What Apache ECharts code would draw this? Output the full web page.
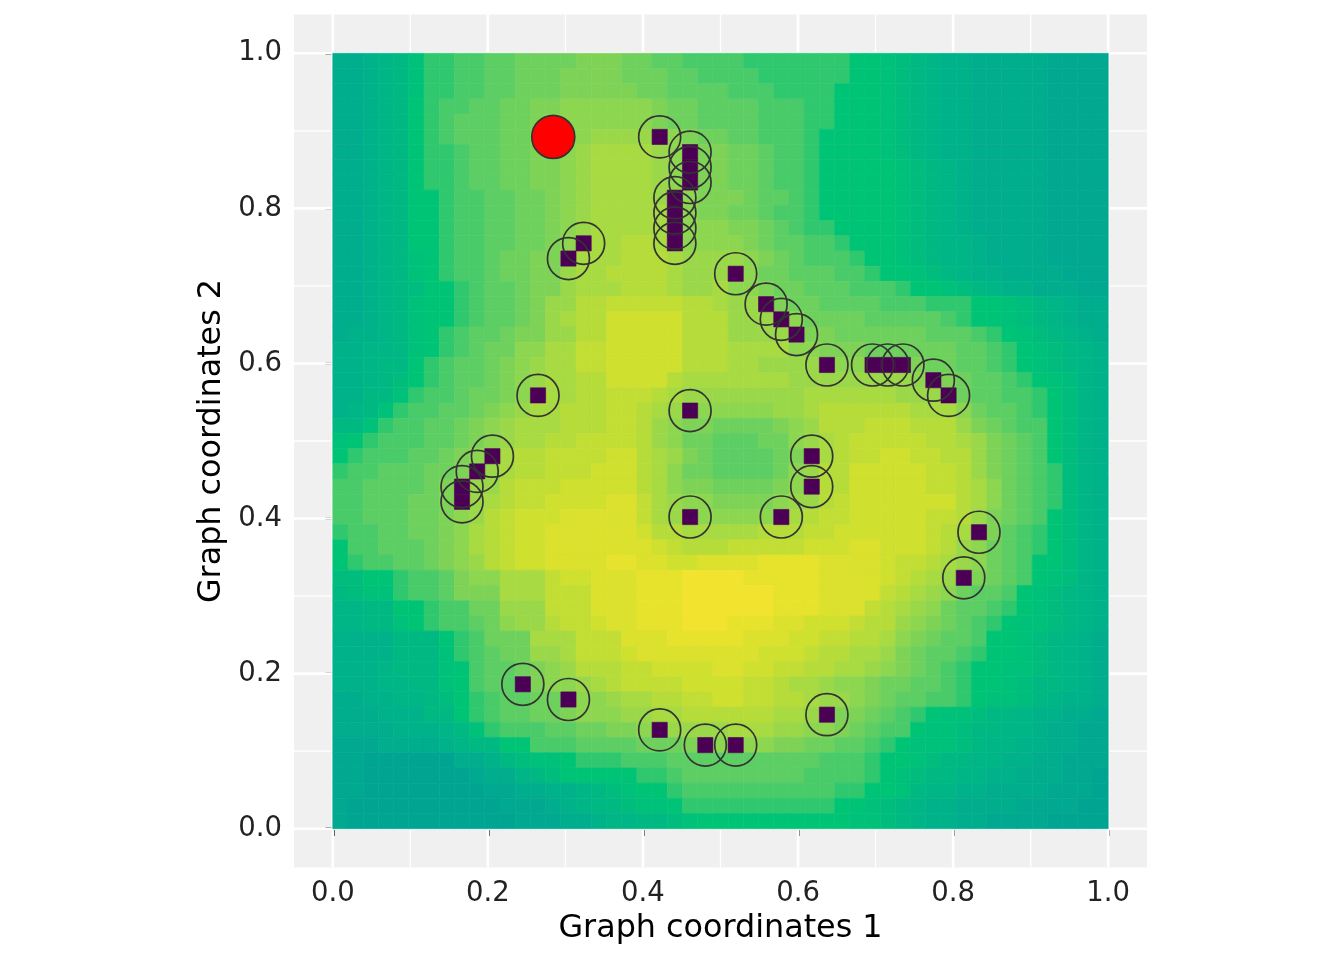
<!DOCTYPE html>
<html>
<head>
<meta charset="utf-8">
<script src="https://cdn.jsdelivr.net/npm/echarts@6/dist/echarts.min.js"></script>
<style>
html,body{margin:0;padding:0;background:#ffffff;}
#chart{width:1344px;height:960px;}
</style>
</head>
<body>
<div id="chart"></div>
<script>
// ---------------- DATA ----------------
// Raster of 51 x 51 cells over [0,1] x [0,1]; rows listed from top (row 50) to bottom (row 0).
// Each letter is a fill level: a = 0.50, b = 0.52, ... z = 1.00 (step 0.02).
const GRID_N = 51;
const LEVEL_CODES = "abcdefghijklmnopqrstuvwxyz";
const fieldRows = [
  "eefghjllmm nnoooopppo onnmmmmlll llll kkjihgffeeeeedddd",
  "eefghjllmm nnoooppppo oonnmmmmll llll kkjihgffeeeeedddd",
  "eefghjllmm nnoooppppp oonnnnmmml lllk kkjihgffeeeeedddd",
  "eefghklmmn nooppqqqqq qpoonnnnmm mllk kkjihgffeeeeedddd",
  "eefghklmnn noopqqqqqq qpoonnnnmm mllk kkjihgffeeeeedddd",
  "eefghklmnn nooppqqrrr rrqpoonnmm mlkk kkjihgffeeeeedddd",
  "eefghkllmn nooppqrsss srqqppoonm mlkk kkjihgffeeeeedddd",
  "eefghkllmn nooppqrsss srqqppoonm mlkk kkkjihgfeeeeedddd",
  "eefghkllmn nooppqrsss srqqppoonm mlkk kkkjihgfeeeeedddd",
  "eefghkklmm nnoopqrsss srrqppponn mlkk kkkjihgfeeeeedddd",
  "eefghkklmm nnoopqrsss ssrqppoonm mlkk kkkjihgfeeeeedddd",
  "eefghkklmm nnoopqrsss ssrqqqppon mllk kkkjihgfeeeeedddd",
  "eefghkklmm nnoopqssst tsrqqqqpon nmml kkkjihggfeeeedddd",
  "eefghjklmm nooppqssst ttsrrrrqpo nmmm lkkjihggfeeeedddd",
  "eefghjklmm noopprsstt ttsrrrrqoo nnnm mlkkjihgffeeeeddd",
  "eefghikklm nnopprssst ttsrrsqqpo onnn mmmlkkjihgffeeedd",
  "eefghjkklm nnoprrttuu uuuttsrrrp oonnnnmmml llkkjihgfee",
  "eefghjkklm nnoprsttvv vvvtttrrrr qoooonnnnn mlkkjihgfee",
  "effghjklmn nopprrttvv vvvtttrrrr rppoooooon nnmlkjihgfe",
  "ffgghjklmn ooqqssuuvv vvvtttssss qqpppooooo onnmlkjihgf",
  "ffghhklmnn opqrssuuvv vvvtttssrr rrrqqqqppo onnmlkjihgf",
  "ffghiklmnn opqrssttvv vvtsssssss rrrrrrrrqq ponnmlkjigf",
  "ffhhjlmmno opqqssttuu utsrrrrrrr rssssssrrr ronnmmlkigf",
  "fghjlmmnno pqrsstttuu tsrrqqqqqr rsttttttss sqonnmlkigf",
  "hhjlmmnnop qrssstttuu trqppoooop qrtttuuutt trponmmkigf",
  "jklmmmnnop qrssttuuuu trqoonnnoo qrstuuuuut tsrponmkigf",
  "klmmmnnopq rsttuuuuvv tsrponnnno pqstuuvvuu ttrponmkigf",
  "lmmnnnoopq rsttuuuvvv tsqoonnnno qrttvvvvvu utrponmligf",
  "mmnnnnopqr rtuuuvvvvv tsqppoooop qrttvvvvvu utsqonmligf",
  "mmnnnoopqr stuuvvvvww usrqqppppq rrtuvvvvvv vtsqonmligf",
  "mmnnnoopqr tuvvvwwwww usrrqqqqqq stuuvvvvvu utrponmkigf",
  "lmmnnoopqs tuvvwwwwww vttssssstt tuuvvvvvvu tsrpnmlkigf",
  "kmmnnnopqs tuvvwwwwww wvutttuuuu uvvvwwvvvu trqonmlkigf",
  "klmmnnopqr tuvvwwwwxx wwvvwwwwxx xxwwwwvuut srqonmkkigf",
  "iikklmmnpq qsssuvvwww xxxyyyyxxx xxwwwwvuts rrponmkjigf",
  "hijjlmmnpp psssuuuwww xxxyyyyyyx xxwwwwutsr qonnmkjihgf",
  "gghhkklmmo orrruuuwww xxxyyyyyyx xxwwwutsrq onnmlkjihgf",
  "gghhjklmmn oqrrtuuvww xxxyyyxxxw wvvvuttrqp onmlkjjihgf",
  "ffffhhhklm ooosssuuuw wwxxxxxwww vvuuttsqpo nnmkkjihgfe",
  "ffffhhhjlm noorrsuuuv wwwwwwwwvv vuttssrpon nmlkkjihgfe",
  "fffghhhjkm nnopqrtttu uvvvvwwvvu uttssrqpon mlkkjjihgfe",
  "fffgghhjkm nnopqqrstu uuuvvvvuut ssrqqpoonn mlkkjihhgfe",
  "eeffgghikl mnnoopqqrs sttuuvvuut tsrrqponnm mlkjjihgffe",
  "eeefffhhkl mnnoopqqqr rsstttttts srrpponmlk jjihhgffeed",
  "eeeefffghj lmmmnnoopp qqrrrrsssr rqqponmmkj jihhggfeedd",
  "dddeeeefgh hkkmmmnnnn oooppqqqqp poonnmlkjj jihggffeedd",
  "ddccccccee fhijjklllm mmnnnnnnnn nnmmmlkkji hhggffeeddd",
  "ddcccccccd eeghikkkkk llmnnnnnnn nmmmmlkjih hggffeeeddc",
  "ddcccccccc ddeeffghij kklmmmmmmm mmmllkkjhg gffeeeedddc",
  "dccccccccc cdddefghhi jjklllllll lllkkjihgf feeeeddddcc",
  "dccccccccc ccdddeefgg hhijkkkkkk kkkkjjihgf feeddddcccc"
];
// Marked nodes: raster cell column / row of each (drawn as lowest-value cells with an open ring)
const nodeCols = [21,23,23,23,22,22,22,22,16,15,26,28,29,30,32,35,36,37,39,40,13,23,31,31,29,10, 9, 8, 8,23,42,41,12,15,21,24,26,32];
const nodeRows = [45,44,43,42,41,40,39,38,38,37,36,34,33,32,30,30,30,30,29,28,28,27,24,22,20,24,23,22,21,20,19,16, 9, 8, 6, 5, 5, 7];
// Highlighted node (red)
const focusCol = [14];
const focusRow = [45];
// Axis ticks
const majorTicks = [0.0, 0.2, 0.4, 0.6, 0.8, 1.0];
const minorTicks = [0.1, 0.3, 0.5, 0.7, 0.9];
const axisRange = [-0.05, 1.05];

// ---------------- COLOURS (HCL "Viridis" sequential palette) ----------------
function hclToHex(H, C, L) {
  if (L <= 0) return '#000000';
  const XN = 95.047, YN = 100.0, ZN = 108.883;
  const h = H * Math.PI / 180;
  const U = C * Math.cos(h), V = C * Math.sin(h);
  const Y = L > 7.999592 ? YN * Math.pow((L + 16) / 116, 3) : YN * L / 903.3;
  const t = XN + YN + ZN, x = XN / t, y = YN / t;
  const uN = 2 * x / (6 * y - x + 1.5), vN = 4.5 * y / (6 * y - x + 1.5);
  const u = U / (13 * L) + uN, v = V / (13 * L) + vN;
  const X = 9 * Y * u / (4 * v);
  const Z = -X / 3 - 5 * Y + 3 * Y / v;
  const lin = [
    ( 3.240479 * X - 1.537150 * Y - 0.498535 * Z) / YN,
    (-0.969256 * X + 1.875992 * Y + 0.041556 * Z) / YN,
    ( 0.055648 * X - 0.204043 * Y + 1.057311 * Z) / YN
  ];
  return '#' + lin.map(c => {
    let g = c <= 0.0031308 ? 12.92 * c : 1.055 * Math.pow(c, 1 / 2.4) - 0.055;
    g = Math.max(0, Math.min(1, g));
    return Math.round(g * 255).toString(16).padStart(2, '0');
  }).join('');
}
function viridisHcl(val) {
  const i = 1 - Math.max(0, Math.min(1, val));
  const H = 75 + (300 - 75) * i;
  const C = 95 - (95 - 40) * i;
  const L = 90 - (90 - 15) * Math.pow(i, 1.1);
  return hclToHex(H, C, L);
}

// ---------------- BUILD SERIES DATA ----------------
const cellData = [];
fieldRows.forEach((rowStr, r) => {
  const s = rowStr.replace(/\s+/g, '');
  if (s.length !== GRID_N) console.error('row ' + r + ' has ' + s.length + ' cells');
  const j = GRID_N - 1 - r;
  for (let i = 0; i < s.length; i++) {
    const v = 0.5 + 0.02 * LEVEL_CODES.indexOf(s[i]);
    cellData.push([(i + 0.5) / GRID_N, (j + 0.5) / GRID_N, v]);
  }
});
const nodeData = nodeCols.map((c, k) => [(c + 0.5) / GRID_N, (nodeRows[k] + 0.5) / GRID_N, 0]);
const focusData = focusCol.map((c, k) => [(c + 0.5) / GRID_N, (focusRow[k] + 0.5) / GRID_N]);
const gridLineData = [];
majorTicks.forEach(v => { gridLineData.push([v, 0, 1]); gridLineData.push([v, 1, 1]); });
minorTicks.forEach(v => { gridLineData.push([v, 0, 0]); gridLineData.push([v, 1, 0]); });

function cellItem(params, api, fixedColor) {
  const c = api.coord([api.value(0), api.value(1)]);
  const sz = api.size([1 / GRID_N, 1 / GRID_N]);
  const col = fixedColor || viridisHcl(api.value(2));
  return {
    type: 'rect',
    shape: { x: c[0] - sz[0] / 2, y: c[1] - sz[1] / 2, width: sz[0], height: sz[1] },
    style: { fill: col, stroke: col, lineWidth: 0.6 }
  };
}

const FONT = 'DejaVu Sans';
const chart = echarts.init(document.getElementById('chart'), null, { renderer: 'canvas' });
const axisCommon = {
  type: 'value',
  min: axisRange[0],
  max: axisRange[1],
  axisLine: { show: false },
  axisTick: { show: true, customValues: majorTicks, length: 7.3, lineStyle: { color: '#333333', width: 2.6 } },
  axisLabel: { customValues: majorTicks, formatter: v => v.toFixed(1), fontSize: 27.5, color: '#222222', fontFamily: FONT, margin: 12 },
  splitLine: { show: false },
  nameLocation: 'middle',
  nameTextStyle: { fontSize: 31.8, color: '#000000', fontFamily: FONT }
};

chart.setOption({
  animation: false,
  backgroundColor: '#ffffff',
  grid: { left: 294, right: 197, top: 14.5, bottom: 92.5, show: true, backgroundColor: '#F0F0F0', borderWidth: 0 },
  xAxis: Object.assign({}, axisCommon, { name: 'Graph coordinates 1', nameGap: 44 }),
  yAxis: Object.assign({}, axisCommon, { name: 'Graph coordinates 2', nameGap: 66 }),
  series: [
    {
      type: 'custom', name: 'grid', silent: true, z: 1,
      data: gridLineData,
      renderItem: (params, api) => {
        const v = api.value(0), o = api.value(1), m = api.value(2);
        const a = o === 0 ? api.coord([v, axisRange[0]]) : api.coord([axisRange[0], v]);
        const b = o === 0 ? api.coord([v, axisRange[1]]) : api.coord([axisRange[1], v]);
        return { type: 'line', shape: { x1: a[0], y1: a[1], x2: b[0], y2: b[1] }, style: { stroke: '#ffffff', lineWidth: m ? 2.6 : 1.3 } };
      }
    },
    {
      type: 'custom', name: 'field', silent: true, z: 2,
      data: cellData,
      renderItem: (params, api) => cellItem(params, api, null)
    },
    {
      type: 'custom', name: 'nodes', silent: true, z: 3,
      data: nodeData,
      renderItem: (params, api) => cellItem(params, api, viridisHcl(0))
    },
    {
      type: 'scatter', name: 'rings', silent: true, z: 4,
      data: nodeData.map(d => [d[0], d[1]]),
      symbol: 'circle', symbolSize: 42,
      itemStyle: { color: 'rgba(0,0,0,0)', borderColor: '#333333', borderWidth: 1.7, opacity: 1 }
    },
    {
      type: 'scatter', name: 'focus', silent: true, z: 5,
      data: focusData,
      symbol: 'circle', symbolSize: 43,
      itemStyle: { color: '#FF0000', borderColor: '#333333', borderWidth: 1.7, opacity: 1 }
    }
  ]
});
</script>
</body>
</html>
